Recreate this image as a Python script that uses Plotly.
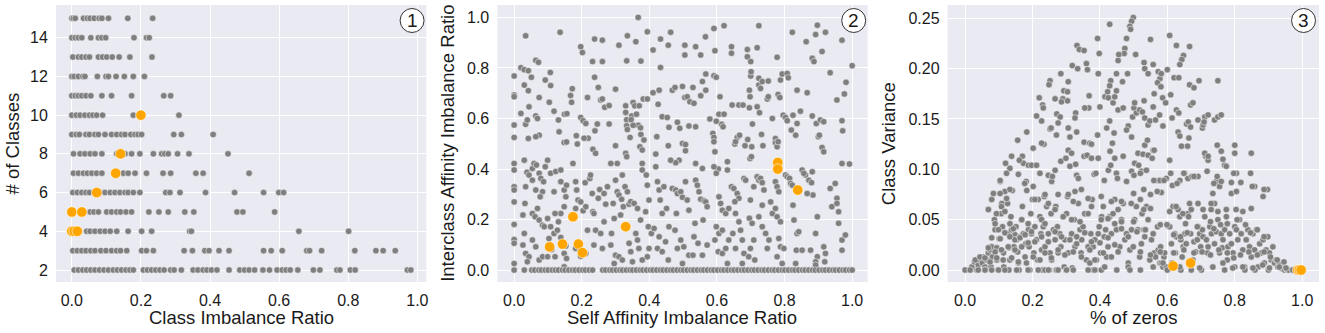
import plotly.graph_objects as go

# ---------------- Panel 1 data: # of classes vs class imbalance ratio ----------------
p1_classes = [15, 14, 13, 12, 11, 10, 9, 8, 7, 6, 5, 4, 3, 2]
p1_ratios = [
    [0.0, 0.004, 0.01, 0.034, 0.045, 0.053, 0.065, 0.079, 0.087, 0.106, 0.162, 0.234],
    [0.0, 0.01, 0.019, 0.029, 0.055, 0.077, 0.087, 0.098, 0.18, 0.216, 0.224],
    [0.003, 0.019, 0.029, 0.041, 0.051, 0.077, 0.089, 0.101, 0.117, 0.137, 0.168, 0.232],
    [0.0, 0.007, 0.019, 0.032, 0.038, 0.074, 0.099, 0.106, 0.128, 0.152, 0.178, 0.21],
    [0.0, 0.01, 0.019, 0.029, 0.041, 0.055, 0.087, 0.115, 0.173, 0.266, 0.286],
    [0.0, 0.013, 0.024, 0.038, 0.051, 0.061, 0.072, 0.089, 0.178, 0.31],
    [0.0, 0.013, 0.022, 0.041, 0.051, 0.067, 0.077, 0.096, 0.115, 0.13, 0.144, 0.154, 0.171,
     0.183, 0.192, 0.202, 0.295, 0.317, 0.409],
    [0.005, 0.024, 0.038, 0.053, 0.067, 0.087, 0.13, 0.154, 0.173, 0.197, 0.236, 0.26, 0.269,
     0.279, 0.306, 0.339, 0.452],
    [0.005, 0.019, 0.034, 0.045, 0.058, 0.072, 0.087, 0.149, 0.163, 0.183, 0.216, 0.264, 0.286,
     0.359, 0.38, 0.513],
    [0.003, 0.016, 0.029, 0.041, 0.051, 0.082, 0.096, 0.111, 0.125, 0.139, 0.154, 0.163, 0.178,
     0.197, 0.272, 0.284, 0.313, 0.387, 0.471, 0.555, 0.599, 0.613],
    [0.053, 0.064, 0.077, 0.101, 0.115, 0.13, 0.141, 0.157, 0.173, 0.223, 0.252, 0.279, 0.327,
     0.353, 0.478, 0.495, 0.587],
    [0.043, 0.053, 0.067, 0.082, 0.096, 0.111, 0.13, 0.163, 0.202, 0.231, 0.341, 0.346, 0.657, 0.801],
    [0.003, 0.016, 0.029, 0.041, 0.055, 0.067, 0.084, 0.099, 0.115, 0.13, 0.141, 0.159, 0.202,
     0.216, 0.236, 0.325, 0.349, 0.385, 0.397, 0.426, 0.455, 0.555, 0.577, 0.609, 0.68, 0.688,
     0.723, 0.819, 0.88, 0.901, 0.936],
    [0.007, 0.019, 0.032, 0.043, 0.055, 0.067, 0.08, 0.093, 0.106, 0.12, 0.132, 0.144, 0.157,
     0.168, 0.178, 0.207, 0.219, 0.231, 0.243, 0.255, 0.267, 0.286, 0.296, 0.317, 0.351, 0.365,
     0.38, 0.391, 0.404, 0.42, 0.455, 0.486, 0.5, 0.513, 0.529, 0.553, 0.572, 0.594, 0.609, 0.62,
     0.632, 0.654, 0.699, 0.718, 0.767, 0.776, 0.806, 0.82, 0.971, 0.981],
]
p1_hl_x = [0.2, 0.141, 0.127, 0.072, 0.0, 0.029, 0.0, 0.007, 0.016]
p1_hl_y = [10, 8, 7, 6, 5, 5, 4, 4, 4]

# ---------------- Panel 2 data: interclass vs self affinity imbalance ----------------
p2_x_rows = [
    [0.367, 0.034, 0.136, 0.197, 0.202, 0.238, 0.261, 0.31, 0.335, 0.36, 0.394, 0.411],
    [0.433, 0.456, 0.463, 0.505, 0.505, 0.537, 0.566, 0.552, 0.591, 0.594, 0.621, 0.643],
    [0.643, 0.69, 0.7, 0.69, 0.724, 0.719, 0.778, 0.823, 0.864, 0.882, 0.897, 0.892],
    [0.921, 0.911, 0.97, 1.0, 0.887, 0.232, 0.261, 0.333, 0.375, 0.064, 0.072],
    [0.0, 0.0, 0.0, 0.0, 0.0, 0.02, 0.03, 0.042, 0.051, 0.03, 0.042, 0.02, 0.034, 0.039, 0.044, 0.042],
    [0.092, 0.107, 0.108, 0.074, 0.064, 0.069, 0.074, 0.064, 0.104, 0.118, 0.131, 0.133, 0.148, 0.155],
    [0.149, 0.156, 0.167, 0.172, 0.17, 0.184, 0.187, 0.197, 0.204, 0.217, 0.212, 0.219, 0.207],
    [0.238, 0.249, 0.256, 0.261, 0.268, 0.281, 0.246, 0.239, 0.233, 0.241, 0.281, 0.3, 0.3, 0.305],
    [0.33, 0.33, 0.333, 0.333, 0.348, 0.346, 0.352, 0.357, 0.37, 0.362, 0.367, 0.375, 0.374, 0.352,
     0.335, 0.343],
    [0.382, 0.394, 0.372, 0.384, 0.379, 0.411, 0.426, 0.429, 0.433, 0.438, 0.453, 0.458, 0.456,
     0.422, 0.419],
    [0.468, 0.476, 0.483, 0.49, 0.498, 0.505, 0.512, 0.498, 0.488, 0.478, 0.52, 0.529, 0.532, 0.537,
     0.552, 0.517, 0.507, 0.507],
    [0.557, 0.567, 0.567, 0.579, 0.588, 0.591, 0.606, 0.614, 0.598, 0.591, 0.598, 0.609, 0.621,
     0.618, 0.594, 0.591, 0.604],
    [0.645, 0.653, 0.66, 0.667, 0.655, 0.665, 0.677, 0.683, 0.691, 0.696, 0.7, 0.701, 0.696, 0.698,
     0.703, 0.698, 0.705],
    [0.724, 0.724, 0.729, 0.734, 0.719, 0.726, 0.732, 0.736, 0.752, 0.749, 0.752, 0.764, 0.773,
     0.773, 0.778, 0.781],
    [0.781, 0.786, 0.788, 0.793, 0.808, 0.811, 0.796, 0.803, 0.808, 0.82, 0.825, 0.837, 0.837,
     0.847, 0.833],
    [0.867, 0.882, 0.894, 0.9, 0.906, 0.916, 0.903, 0.911, 0.916, 0.935, 0.955, 0.97, 0.972, 0.977,
     0.982],
    [0.0, 0.0, 0.0, 0.0, 0.0, 0.0, 0.0, 0.0, 0.0],
    [0.03, 0.038, 0.044, 0.034, 0.032, 0.026, 0.03, 0.026, 0.034, 0.044, 0.039],
    [0.054, 0.059, 0.066, 0.054, 0.064, 0.074, 0.079, 0.084, 0.077, 0.087, 0.092, 0.099],
    [0.054, 0.062, 0.069, 0.074, 0.084, 0.099, 0.089, 0.054, 0.064, 0.074, 0.084, 0.099],
    [0.108, 0.118, 0.123, 0.138, 0.138, 0.148, 0.153, 0.155, 0.148, 0.138, 0.121],
    [0.108, 0.118, 0.128, 0.103, 0.111, 0.121, 0.131, 0.138, 0.153, 0.148, 0.155, 0.148],
    [0.174, 0.182, 0.185, 0.189, 0.182, 0.197, 0.204, 0.21, 0.212, 0.224, 0.217, 0.182, 0.197, 0.212],
    [0.226, 0.231, 0.233, 0.236, 0.249, 0.253, 0.241, 0.236, 0.256, 0.266, 0.261, 0.266, 0.276, 0.271],
    [0.286, 0.293, 0.3, 0.305, 0.31, 0.318, 0.323, 0.315, 0.296, 0.288, 0.286, 0.3, 0.296, 0.31, 0.32],
    [0.33, 0.333, 0.32, 0.328, 0.335, 0.34, 0.345, 0.355, 0.365, 0.374, 0.36, 0.34, 0.345, 0.35,
     0.365, 0.369],
    [0.379, 0.379, 0.391, 0.394, 0.399, 0.389, 0.397, 0.406, 0.399, 0.394, 0.379],
    [0.419, 0.424, 0.429, 0.432, 0.438, 0.451, 0.443, 0.414, 0.429, 0.424, 0.438, 0.448, 0.458, 0.456],
    [0.463, 0.468, 0.478, 0.483, 0.493, 0.498, 0.507, 0.512, 0.517, 0.48, 0.476, 0.483, 0.493,
     0.502, 0.498, 0.517, 0.529],
    [0.537, 0.542, 0.547, 0.552, 0.562, 0.567, 0.571, 0.559, 0.535, 0.532, 0.544, 0.557, 0.571,
     0.537, 0.557],
    [0.591, 0.598, 0.606, 0.611, 0.598, 0.606, 0.616, 0.594, 0.604, 0.616, 0.626, 0.635, 0.631],
    [0.616, 0.626, 0.635, 0.631, 0.631, 0.643, 0.65, 0.66, 0.665, 0.653, 0.655, 0.665, 0.67, 0.675,
     0.647, 0.655, 0.68, 0.675],
    [0.68, 0.685, 0.702, 0.709, 0.699, 0.696, 0.704, 0.709, 0.699, 0.694, 0.712],
    [0.719, 0.724, 0.729, 0.734, 0.739, 0.734, 0.724, 0.734, 0.744, 0.749, 0.754],
    [0.759, 0.764, 0.773, 0.773, 0.778, 0.783, 0.778, 0.788, 0.783, 0.778, 0.788, 0.798, 0.793],
    [0.803, 0.808, 0.815, 0.818, 0.823, 0.825, 0.828, 0.837, 0.842, 0.835, 0.833, 0.862, 0.872,
     0.88, 0.882, 0.884],
    [0.852, 0.857, 0.867, 0.897, 0.892, 0.897, 0.892, 0.892, 0.852, 0.877, 0.916, 0.921, 0.919],
    [0.935, 0.95, 0.94, 0.955, 0.955, 0.96, 0.96, 0.97, 0.98, 0.97, 0.97, 0.992],
]
p2_y_rows = [
    [1.0, 0.927, 0.941, 0.884, 0.861, 0.914, 0.91, 0.89, 0.927, 0.904, 0.943, 0.871],
    [0.914, 0.89, 0.941, 0.89, 0.851, 0.884, 0.923, 0.851, 0.956, 0.868, 0.967, 0.884],
    [0.858, 0.844, 0.825, 0.873, 0.967, 0.88, 0.842, 0.941, 0.904, 0.838, 0.969, 0.932],
    [0.941, 0.865, 0.91, 0.809, 0.825, 0.825, 0.825, 0.828, 0.827, 0.83, 0.822],
    [0.768, 0.693, 0.686, 0.574, 0.525, 0.801, 0.793, 0.789, 0.763, 0.732, 0.71, 0.62, 0.577, 0.594,
     0.646, 0.521],
    [0.752, 0.782, 0.73, 0.683, 0.61, 0.6, 0.534, 0.528, 0.664, 0.629, 0.594, 0.547, 0.505, 0.507],
    [0.617, 0.619, 0.691, 0.718, 0.664, 0.532, 0.499, 0.604, 0.591, 0.683, 0.58, 0.522, 0.522],
    [0.763, 0.723, 0.673, 0.677, 0.644, 0.651, 0.578, 0.551, 0.478, 0.462, 0.578, 0.716, 0.492, 0.422],
    [0.65, 0.624, 0.595, 0.571, 0.61, 0.595, 0.663, 0.65, 0.65, 0.617, 0.573, 0.537, 0.563, 0.573,
     0.556, 0.525],
    [0.677, 0.677, 0.488, 0.515, 0.475, 0.702, 0.656, 0.712, 0.802, 0.607, 0.604, 0.565, 0.492,
     0.528, 0.459],
    [0.712, 0.723, 0.585, 0.561, 0.727, 0.683, 0.686, 0.501, 0.435, 0.425, 0.666, 0.723, 0.66, 0.567,
     0.69, 0.57, 0.497, 0.472],
    [0.746, 0.776, 0.712, 0.598, 0.541, 0.525, 0.617, 0.577, 0.589, 0.769, 0.763, 0.686, 0.617,
     0.567, 0.468, 0.508, 0.4],
    [0.653, 0.499, 0.525, 0.534, 0.508, 0.653, 0.653, 0.492, 0.517, 0.642, 0.768, 0.785, 0.712, 0.686,
     0.488, 0.442, 0.578],
    [0.759, 0.732, 0.719, 0.746, 0.646, 0.623, 0.537, 0.492, 0.748, 0.677, 0.686, 0.6, 0.521,
     0.504, 0.488, 0.508],
    [0.695, 0.683, 0.752, 0.776, 0.778, 0.761, 0.613, 0.604, 0.591, 0.554, 0.613, 0.58, 0.712,
     0.629, 0.534],
    [0.702, 0.61, 0.58, 0.528, 0.594, 0.587, 0.534, 0.485, 0.468, 0.781, 0.673, 0.591, 0.551, 0.697,
     0.743],
    [0.422, 0.396, 0.33, 0.317, 0.27, 0.181, 0.121, 0.106, 0.026],
    [0.435, 0.387, 0.376, 0.33, 0.264, 0.218, 0.145, 0.099, 0.066, 0.053, 0.033],
    [0.402, 0.422, 0.416, 0.356, 0.317, 0.383, 0.363, 0.31, 0.29, 0.35, 0.409, 0.435],
    [0.224, 0.211, 0.244, 0.198, 0.178, 0.204, 0.172, 0.119, 0.092, 0.04, 0.053, 0.053],
    [0.383, 0.31, 0.39, 0.35, 0.396, 0.317, 0.29, 0.336, 0.251, 0.224, 0.224],
    [0.172, 0.145, 0.158, 0.125, 0.082, 0.053, 0.191, 0.129, 0.095, 0.066, 0.046, 0.013],
    [0.422, 0.35, 0.317, 0.277, 0.244, 0.27, 0.235, 0.346, 0.251, 0.363, 0.158, 0.086, 0.055, 0.066],
    [0.376, 0.303, 0.231, 0.224, 0.284, 0.319, 0.158, 0.099, 0.145, 0.191, 0.086, 0.303, 0.33, 0.261],
    [0.422, 0.264, 0.356, 0.31, 0.297, 0.28, 0.251, 0.218, 0.204, 0.145, 0.099, 0.059, 0.026, 0.053, 0.04],
    [0.462, 0.449, 0.376, 0.33, 0.31, 0.261, 0.271, 0.264, 0.244, 0.198, 0.145, 0.106, 0.073, 0.033,
     0.119, 0.086],
    [0.422, 0.396, 0.376, 0.336, 0.277, 0.231, 0.172, 0.145, 0.086, 0.053, 0.04],
    [0.409, 0.35, 0.317, 0.277, 0.224, 0.244, 0.33, 0.165, 0.132, 0.086, 0.073, 0.112, 0.172, 0.04],
    [0.435, 0.323, 0.317, 0.303, 0.31, 0.288, 0.35, 0.277, 0.237, 0.224, 0.158, 0.086, 0.119,
     0.092, 0.026, 0.059, 0.059],
    [0.356, 0.336, 0.31, 0.28, 0.274, 0.27, 0.251, 0.198, 0.185, 0.132, 0.106, 0.059, 0.099,
     0.422, 0.402],
    [0.409, 0.383, 0.29, 0.264, 0.172, 0.145, 0.158, 0.119, 0.073, 0.066, 0.086, 0.119, 0.026],
    [0.237, 0.224, 0.244, 0.429, 0.396, 0.33, 0.323, 0.303, 0.284, 0.271, 0.224, 0.191, 0.158, 0.119,
     0.145, 0.086, 0.066, 0.026],
    [0.363, 0.356, 0.449, 0.33, 0.277, 0.205, 0.185, 0.119, 0.086, 0.053, 0.04],
    [0.369, 0.356, 0.363, 0.346, 0.317, 0.257, 0.211, 0.172, 0.145, 0.086, 0.119],
    [0.27, 0.224, 0.244, 0.35, 0.33, 0.31, 0.211, 0.191, 0.125, 0.053, 0.092, 0.086, 0.026],
    [0.376, 0.369, 0.363, 0.343, 0.336, 0.257, 0.198, 0.145, 0.152, 0.079, 0.026, 0.376, 0.356,
     0.346, 0.389, 0.297],
    [0.396, 0.383, 0.303, 0.211, 0.145, 0.053, 0.033, 0.02, 0.079, 0.079, 0.092, 0.066, 0.033],
    [0.323, 0.343, 0.251, 0.284, 0.264, 0.231, 0.185, 0.119, 0.139, 0.079, 0.422, 0.42],
]
# points lying exactly on zero interclass affinity imbalance
p2_zero_x = [0.0, 0.03, 0.052, 0.061, 0.073, 0.081, 0.092, 0.101, 0.113, 0.122, 0.131, 0.143,
             0.151, 0.162, 0.173, 0.181, 0.192, 0.203, 0.211, 0.222, 0.232, 0.262, 0.271, 0.283,
             0.291, 0.302, 0.313, 0.321, 0.332, 0.343, 0.351, 0.362, 0.373, 0.381, 0.392, 0.403,
             0.411, 0.422, 0.433, 0.441, 0.452, 0.463, 0.471, 0.482, 0.493, 0.501, 0.512, 0.523,
             0.531, 0.542, 0.553, 0.561, 0.572, 0.583, 0.591, 0.602, 0.613, 0.621, 0.632, 0.643,
             0.651, 0.662, 0.673, 0.681, 0.692, 0.703, 0.711, 0.722, 0.733, 0.741, 0.752, 0.763,
             0.771, 0.782, 0.793, 0.801, 0.812, 0.823, 0.831, 0.842, 0.853, 0.861, 0.872, 0.883,
             0.891, 0.902, 0.913, 0.921, 0.932, 0.943, 0.951, 0.962, 0.973, 0.981, 0.992, 1.0]
p2_hl_x = [0.105, 0.143, 0.174, 0.19, 0.202, 0.33, 0.78, 0.78, 0.839]
p2_hl_y = [0.092, 0.103, 0.211, 0.103, 0.069, 0.172, 0.426, 0.4, 0.317]

# ---------------- Panel 3 data: class variance vs % of zeros ----------------
p3_x_rows = [
    [0.499, 0.494, 0.489, 0.491, 0.429, 0.393, 0.479, 0.55, 0.607],
    [0.332, 0.339, 0.353, 0.474, 0.472, 0.456, 0.454, 0.398, 0.506, 0.627, 0.666, 0.648, 0.643, 0.637],
    [0.284, 0.318, 0.334, 0.36, 0.363, 0.395, 0.252, 0.249, 0.449, 0.482, 0.531, 0.533],
    [0.543, 0.558, 0.573, 0.578, 0.582, 0.6, 0.467, 0.432, 0.429, 0.62, 0.634, 0.666, 0.679, 0.694],
    [0.22, 0.23, 0.232, 0.267, 0.29, 0.293, 0.306, 0.304, 0.212, 0.227, 0.252, 0.255, 0.183, 0.156],
    [0.272, 0.282, 0.286, 0.304, 0.328, 0.326, 0.368, 0.367, 0.355, 0.306, 0.311, 0.331, 0.276, 0.271],
    [0.353, 0.37, 0.375, 0.393, 0.4, 0.415, 0.423, 0.425, 0.439, 0.444, 0.449, 0.42, 0.429, 0.442, 0.437],
    [0.454, 0.469, 0.484, 0.479, 0.494, 0.497, 0.501, 0.503, 0.508, 0.518, 0.526, 0.531, 0.533],
    [0.543, 0.548, 0.558, 0.561, 0.571, 0.581, 0.586, 0.565, 0.577, 0.587, 0.595, 0.533, 0.541, 0.558],
    [0.61, 0.614, 0.627, 0.634, 0.632, 0.637, 0.642, 0.657, 0.662, 0.664, 0.66, 0.669, 0.676, 0.669],
    [0.691, 0.704, 0.706, 0.711, 0.721, 0.74, 0.75, 0.76, 0.714, 0.721, 0.748, 0.75, 0.709],
    [0.76, 0.765, 0.77, 0.775, 0.8, 0.8, 0.849, 0.12, 0.133, 0.138, 0.17, 0.173, 0.188, 0.197],
    [0.202, 0.212, 0.161, 0.181, 0.234, 0.222, 0.227, 0.247, 0.257, 0.259, 0.267, 0.284, 0.299, 0.306],
    [0.316, 0.311, 0.328, 0.331, 0.336, 0.353, 0.362, 0.375, 0.383, 0.388, 0.395, 0.413, 0.425, 0.43],
    [0.432, 0.444, 0.449, 0.452, 0.469, 0.479, 0.494, 0.501, 0.503, 0.515, 0.523, 0.538, 0.513, 0.528],
    [0.543, 0.555, 0.561, 0.573, 0.578, 0.582, 0.597, 0.607, 0.61, 0.615, 0.637, 0.651, 0.661, 0.673],
    [0.681, 0.691, 0.711, 0.721, 0.745, 0.755, 0.76, 0.79, 0.79, 0.805, 0.805, 0.818, 0.847, 0.859],
    [0.884, 0.897, 0.735, 0.74, 0.73],
    [0.0, 0.015, 0.02, 0.028, 0.035, 0.039, 0.044, 0.051, 0.054, 0.059, 0.064, 0.069, 0.069, 0.074, 0.077],
    [0.079, 0.081, 0.084, 0.087, 0.089, 0.094, 0.094, 0.099, 0.101, 0.104, 0.107, 0.109, 0.111, 0.114, 0.115],
    [0.118, 0.123, 0.126, 0.128, 0.13, 0.133, 0.136, 0.138, 0.14, 0.145, 0.148, 0.151, 0.153, 0.156, 0.158],
    [0.163, 0.168, 0.17, 0.173, 0.178, 0.18, 0.183, 0.188, 0.19, 0.192, 0.195, 0.197, 0.2, 0.204, 0.207],
    [0.212, 0.215, 0.217, 0.222, 0.225, 0.227, 0.229, 0.232, 0.235, 0.237, 0.242, 0.247, 0.252, 0.255, 0.257],
    [0.262, 0.267, 0.269, 0.271, 0.274, 0.276, 0.281, 0.284, 0.291, 0.294, 0.296, 0.301, 0.304, 0.306, 0.311],
    [0.316, 0.318, 0.324, 0.326, 0.331, 0.336, 0.341, 0.344, 0.346, 0.35, 0.355, 0.36, 0.365, 0.37, 0.373],
    [0.377, 0.38, 0.385, 0.39, 0.395, 0.398, 0.402, 0.405, 0.41, 0.413, 0.417, 0.42, 0.424, 0.429, 0.434],
    [0.439, 0.444, 0.449, 0.454, 0.459, 0.464, 0.469, 0.474, 0.479, 0.484, 0.489, 0.494, 0.499, 0.503, 0.508],
    [0.513, 0.518, 0.523, 0.525, 0.531, 0.533, 0.538, 0.543, 0.548, 0.553, 0.558, 0.561, 0.565, 0.571, 0.573],
    [0.578, 0.58, 0.582, 0.587, 0.59, 0.592, 0.597, 0.602, 0.607, 0.612, 0.614, 0.617, 0.622, 0.624, 0.627],
    [0.632, 0.637, 0.64, 0.644, 0.647, 0.652, 0.654, 0.656, 0.661, 0.663, 0.666, 0.669, 0.671, 0.676, 0.679],
    [0.684, 0.689, 0.691, 0.696, 0.699, 0.701, 0.704, 0.706, 0.711, 0.716, 0.719, 0.721, 0.726, 0.731, 0.735],
    [0.74, 0.745, 0.75, 0.755, 0.76, 0.763, 0.765, 0.77, 0.775, 0.778, 0.78, 0.785, 0.79, 0.795, 0.8],
    [0.8, 0.805, 0.809, 0.814, 0.819, 0.824, 0.829, 0.834, 0.839, 0.844, 0.849, 0.854, 0.859, 0.864, 0.869],
    [0.874, 0.879, 0.884, 0.888, 0.893, 0.898, 0.903, 0.908, 0.913, 0.918, 0.923, 0.928, 0.933, 0.938, 0.943],
    [0.948, 0.953, 0.958, 0.967, 0.977],
    [0.06, 0.13, 0.16, 0.25, 0.3, 0.38, 0.45, 0.52, 0.6, 0.64, 0.77, 0.83, 0.86, 0.9, 0.96],
    [0.104, 0.158, 0.177, 0.202, 0.084, 0.079, 0.104, 0.133, 0.123, 0.069, 0.093, 0.108, 0.118],
    [0.089, 0.099, 0.133, 0.143, 0.168, 0.187, 0.079, 0.104, 0.118, 0.133, 0.148, 0.163, 0.178, 0.197],
    [0.069, 0.089, 0.108, 0.128, 0.148, 0.168, 0.187, 0.207, 0.03, 0.044, 0.059, 0.074, 0.094, 0.113],
    [0.138, 0.158, 0.182, 0.202, 0.222, 0.015, 0.039, 0.059, 0.079, 0.099, 0.118, 0.153, 0.187, 0.217, 0.237],
    [0.247, 0.276, 0.301, 0.321, 0.365, 0.385, 0.404, 0.414, 0.484, 0.489],
    [0.207, 0.237, 0.247, 0.267, 0.276, 0.306, 0.326, 0.345, 0.321, 0.365, 0.375, 0.404, 0.434, 0.464, 0.493],
    [0.227, 0.237, 0.291, 0.316, 0.341, 0.365, 0.404, 0.424, 0.444, 0.464],
    [0.227, 0.247, 0.267, 0.286, 0.311, 0.331, 0.355, 0.375, 0.4, 0.424, 0.444, 0.464, 0.484],
    [0.237, 0.256, 0.276, 0.296, 0.321, 0.345, 0.37, 0.385, 0.41, 0.434, 0.454],
    [0.5, 0.53, 0.55, 0.57, 0.52, 0.53, 0.55, 0.607, 0.626, 0.646, 0.671, 0.691, 0.706, 0.73],
    [0.75, 0.775, 0.804, 0.824, 0.849, 0.5, 0.51, 0.535, 0.579, 0.599, 0.619, 0.639, 0.659, 0.689],
    [0.728, 0.738, 0.758, 0.778, 0.807, 0.832, 0.847, 0.867, 0.887, 0.52, 0.55, 0.579, 0.619, 0.649],
    [0.679, 0.703, 0.728, 0.753, 0.778, 0.797, 0.817, 0.842, 0.867, 0.887, 0.906, 0.926, 0.946],
    [0.558, 0.587, 0.637, 0.696, 0.735, 0.765, 0.794, 0.824, 0.854, 0.883, 0.903, 0.932, 0.952, 0.972],
    [0.52, 0.56, 0.59, 0.649, 0.679, 0.718, 0.748, 0.797, 0.852, 0.887, 0.738, 0.629],
]
p3_y_rows = [
    [0.2507, 0.247, 0.242, 0.239, 0.244, 0.23, 0.23, 0.229, 0.233],
    [0.223, 0.219, 0.218, 0.22, 0.215, 0.214, 0.208, 0.215, 0.214, 0.223, 0.222, 0.213, 0.209, 0.204],
    [0.195, 0.203, 0.2, 0.205, 0.199, 0.195, 0.188, 0.184, 0.195, 0.195, 0.206, 0.2],
    [0.195, 0.204, 0.197, 0.19, 0.195, 0.199, 0.187, 0.188, 0.183, 0.191, 0.191, 0.184, 0.181, 0.188],
    [0.171, 0.164, 0.161, 0.17, 0.17, 0.178, 0.187, 0.177, 0.153, 0.148, 0.14, 0.141, 0.137, 0.129],
    [0.155, 0.152, 0.167, 0.168, 0.156, 0.151, 0.173, 0.161, 0.161, 0.141, 0.132, 0.137, 0.146, 0.134],
    [0.127, 0.126, 0.125, 0.134, 0.162, 0.172, 0.177, 0.171, 0.166, 0.172, 0.178, 0.141, 0.148, 0.136, 0.126],
    [0.159, 0.161, 0.143, 0.139, 0.132, 0.152, 0.161, 0.166, 0.156, 0.159, 0.157, 0.168, 0.151],
    [0.144, 0.148, 0.162, 0.175, 0.186, 0.182, 0.171, 0.149, 0.154, 0.143, 0.166, 0.124, 0.129, 0.119],
    [0.174, 0.151, 0.159, 0.156, 0.137, 0.133, 0.123, 0.145, 0.147, 0.131, 0.123, 0.164, 0.166, 0.142],
    [0.149, 0.141, 0.144, 0.152, 0.154, 0.149, 0.152, 0.154, 0.113, 0.109, 0.124, 0.188, 0.147],
    [0.118, 0.11, 0.104, 0.103, 0.124, 0.116, 0.116, 0.106, 0.101, 0.113, 0.113, 0.106, 0.104, 0.104],
    [0.121, 0.104, 0.109, 0.088, 0.125, 0.096, 0.126, 0.094, 0.088, 0.093, 0.099, 0.108, 0.111, 0.119],
    [0.116, 0.103, 0.105, 0.094, 0.091, 0.113, 0.114, 0.111, 0.095, 0.096, 0.111, 0.089, 0.099, 0.118],
    [0.104, 0.111, 0.096, 0.091, 0.113, 0.088, 0.098, 0.094, 0.106, 0.104, 0.098, 0.099, 0.116, 0.115],
    [0.114, 0.111, 0.119, 0.089, 0.089, 0.077, 0.091, 0.109, 0.096, 0.084, 0.089, 0.096, 0.091, 0.093],
    [0.093, 0.093, 0.116, 0.113, 0.088, 0.083, 0.088, 0.087, 0.076, 0.078, 0.096, 0.087, 0.096, 0.083],
    [0.073, 0.08, 0.076, 0.066, 0.06],
    [0.0, 0.0, 0.003, 0.008, 0.0, 0.005, 0.01, 0.007, 0.013, 0.003, 0.01, 0.017, 0.06, 0.02, 0.003],
    [0.023, 0.013, 0.076, 0.05, 0.04, 0.022, 0.01, 0.0, 0.031, 0.088, 0.056, 0.066, 0.043, 0.017, 0.003],
    [0.078, 0.096, 0.066, 0.036, 0.022, 0.01, 0.053, 0.04, 0.079, 0.023, 0.035, 0.043, 0.03, 0.018, 0.007],
    [0.033, 0.05, 0.063, 0.036, 0.013, 0.026, 0.079, 0.04, 0.023, 0.0, 0.056, 0.036, 0.07, 0.017, 0.043],
    [0.03, 0.01, 0.07, 0.053, 0.036, 0.02, 0.0, 0.043, 0.073, 0.023, 0.063, 0.036, 0.017, 0.056, 0.01],
    [0.04, 0.03, 0.063, 0.0, 0.043, 0.017, 0.036, 0.023, 0.053, 0.003, 0.03, 0.056, 0.073, 0.017, 0.03],
    [0.036, 0.002, 0.05, 0.023, 0.026, 0.066, 0.04, 0.017, 0.03, 0.043, 0.056, 0.01, 0.023, 0.007, 0.036],
    [0.07, 0.023, 0.03, 0.01, 0.036, 0.043, 0.017, 0.053, 0.063, 0.033, 0.04, 0.013, 0.023, 0.053, 0.036],
    [0.056, 0.07, 0.04, 0.06, 0.023, 0.05, 0.066, 0.03, 0.036, 0.007, 0.02, 0.04, 0.023, 0.05, 0.063],
    [0.04, 0.013, 0.026, 0.056, 0.04, 0.033, 0.063, 0.05, 0.01, 0.03, 0.036, 0.017, 0.013, 0.043, 0.02],
    [0.007, 0.023, 0.007, 0.003, 0.013, 0.017, 0.003, 0.044, 0.043, 0.026, 0.007, 0.063, 0.036, 0.017, 0.033],
    [0.06, 0.053, 0.03, 0.013, 0.023, 0.036, 0.046, 0.026, 0.056, 0.053, 0.066, 0.036, 0.0, 0.01, 0.028],
    [0.018, 0.03, 0.043, 0.036, 0.023, 0.0, 0.04, 0.033, 0.053, 0.03, 0.017, 0.023, 0.043, 0.036, 0.003],
    [0.026, 0.038, 0.05, 0.017, 0.036, 0.022, 0.03, 0.04, 0.053, 0.01, 0.023, 0.036, 0.026, 0.017, 0.003],
    [0.043, 0.04, 0.03, 0.05, 0.036, 0.02, 0.003, 0.03, 0.04, 0.023, 0.013, 0.036, 0.02, 0.04, 0.003],
    [0.026, 0.017, 0.03, 0.007, 0.02, 0.033, 0.017, 0.01, 0.023, 0.007, 0.01, 0.003, 0.005, 0.002, 0.001],
    [0.0, 0.001, 0.0, 0.0, 0.0],
    [0.0, 0.0, 0.0, 0.0, 0.0, 0.0, 0.0, 0.0, 0.0, 0.0, 0.0, 0.0, 0.0, 0.0, 0.0],
    [0.089, 0.095, 0.086, 0.083, 0.076, 0.07, 0.076, 0.08, 0.071, 0.06, 0.056, 0.063, 0.058],
    [0.046, 0.04, 0.046, 0.041, 0.05, 0.046, 0.032, 0.031, 0.037, 0.033, 0.03, 0.032, 0.035, 0.038],
    [0.022, 0.018, 0.02, 0.023, 0.02, 0.023, 0.027, 0.028, 0.01, 0.013, 0.012, 0.008, 0.012, 0.01],
    [0.012, 0.008, 0.007, 0.013, 0.01, 0.0, 0.0, 0.0, 0.0, 0.0, 0.0, 0.0, 0.0, 0.0, 0.0],
    [0.0, 0.0, 0.0, 0.0, 0.0, 0.0, 0.0, 0.003, 0.003, 0.0],
    [0.07, 0.075, 0.066, 0.06, 0.075, 0.075, 0.078, 0.08, 0.068, 0.071, 0.063, 0.073, 0.068, 0.068, 0.066],
    [0.05, 0.046, 0.053, 0.05, 0.048, 0.056, 0.05, 0.051, 0.046, 0.048],
    [0.033, 0.028, 0.038, 0.033, 0.03, 0.033, 0.037, 0.028, 0.027, 0.032, 0.025, 0.041, 0.033],
    [0.017, 0.012, 0.02, 0.015, 0.018, 0.013, 0.02, 0.01, 0.017, 0.013, 0.018],
    [0.076, 0.08, 0.075, 0.078, 0.07, 0.06, 0.061, 0.058, 0.063, 0.056, 0.06, 0.066, 0.06, 0.066],
    [0.058, 0.06, 0.06, 0.058, 0.061, 0.048, 0.038, 0.04, 0.045, 0.045, 0.035, 0.033, 0.037, 0.043],
    [0.048, 0.041, 0.045, 0.046, 0.05, 0.045, 0.037, 0.04, 0.033, 0.018, 0.015, 0.018, 0.017, 0.02],
    [0.017, 0.018, 0.015, 0.02, 0.017, 0.012, 0.015, 0.018, 0.015, 0.018, 0.013, 0.01, 0.008],
    [0.003, 0.007, 0.003, 0.002, 0.003, 0.007, 0.002, 0.003, 0.002, 0.005, 0.002, 0.003, 0.002, 0.0],
    [0.096, 0.089, 0.089, 0.096, 0.093, 0.098, 0.093, 0.096, 0.083, 0.08, 0.086, 0.086],
]
p3_hl_x = [0.617, 0.669, 0.987, 0.992, 0.997]
p3_hl_y = [0.004, 0.007, 0.0, 0.0, 0.0]

# ---------------- Axis texts ----------------
x_titles = ["Class Imbalance Ratio", "Self Affinity Imbalance Ratio", "% of zeros"]
y_titles = ["# of Classes", "Interclass Affinity Imbalance Ratio", "Class Variance"]
panel_labels = ["1", "2", "3"]


def flatten(rows):
    out = []
    for r in rows:
        out.extend(r)
    return out


for a, b in zip(p2_x_rows, p2_y_rows):
    assert len(a) == len(b), (len(a), len(b), a)
for a, b in zip(p3_x_rows, p3_y_rows):
    assert len(a) == len(b), (len(a), len(b), a)
assert len(p2_x_rows) == len(p2_y_rows) and len(p3_x_rows) == len(p3_y_rows)

p1_x, p1_y = [], []
for c, xs in zip(p1_classes, p1_ratios):
    p1_x.extend(xs)
    p1_y.extend([c] * len(xs))

p2_x = flatten(p2_x_rows) + p2_zero_x
p2_y = flatten(p2_y_rows) + [0.0] * len(p2_zero_x)
p3_x = flatten(p3_x_rows)
p3_y = flatten(p3_y_rows)

W, H = 1325, 333
BG = "#EAEAF2"
GRAY = "#7f7f7f"
ORANGE = "#FFA500"
TXT = "#1a1a1a"
FONT = "Liberation Sans, Arial, sans-serif"

# plot areas in pixels (left, right, top, bottom)
areas = [(56, 427, 5, 282), (498, 869, 5, 282), (949, 1321, 5, 282)]

fig = go.Figure()

gray_marker = dict(color=GRAY, size=6.5, line=dict(color="white", width=0.5))
hl_marker = dict(color=ORANGE, size=10.5, line=dict(color="white", width=0.6))

datasets = [(p1_x, p1_y, p1_hl_x, p1_hl_y), (p2_x, p2_y, p2_hl_x, p2_hl_y),
            (p3_x, p3_y, p3_hl_x, p3_hl_y)]
for i, (gx, gy, hx, hy) in enumerate(datasets):
    xa = "x" if i == 0 else f"x{i+1}"
    ya = "y" if i == 0 else f"y{i+1}"
    fig.add_trace(go.Scatter(x=gx, y=gy, mode="markers", marker=gray_marker,
                             xaxis=xa, yaxis=ya, showlegend=False))
    fig.add_trace(go.Scatter(x=hx, y=hy, mode="markers", marker=hl_marker,
                             xaxis=xa, yaxis=ya, showlegend=False))

xranges = [[-0.046, 1.026], [-0.05, 1.046], [-0.052, 1.05]]
yranges = [[1.38, 15.69], [-0.047, 1.049], [-0.0119, 0.2632]]
ytick = [dict(tickvals=[2, 4, 6, 8, 10, 12, 14], tickformat="d"),
         dict(tickvals=[0, 0.2, 0.4, 0.6, 0.8, 1.0], tickformat=".1f"),
         dict(tickvals=[0, 0.05, 0.1, 0.15, 0.2, 0.25], tickformat=".2f")]

layout = dict(width=W, height=H, margin=dict(l=0, r=0, t=0, b=0),
              paper_bgcolor="white", plot_bgcolor=BG,
              font=dict(family=FONT, size=16, color=TXT))

annotations = []
shapes = []
for i, (l, r, t, b) in enumerate(areas):
    sx = "" if i == 0 else str(i + 1)
    axis_common = dict(showgrid=True, gridcolor="white", gridwidth=1.3, zeroline=False,
                       showline=False, ticks="", ticklabelstandoff=7,
                       tickfont=dict(family=FONT, size=16, color=TXT))
    layout[f"xaxis{sx}"] = dict(domain=[l / W, r / W], range=xranges[i],
                                anchor=f"y{sx}", tickvals=[0, 0.2, 0.4, 0.6, 0.8, 1.0],
                                tickformat=".1f", **axis_common)
    layout[f"yaxis{sx}"] = dict(domain=[1 - b / H, 1 - t / H], range=yranges[i],
                                anchor=f"x{sx}", **ytick[i], **axis_common)
    # axis titles
    annotations.append(dict(text=x_titles[i], xref="paper", yref="paper",
                            x=(l + r) / 2 / W, y=1 - 317 / H, showarrow=False,
                            xanchor="center", yanchor="middle",
                            font=dict(family=FONT, size=18.5, color=TXT)))
    ytx = [13, 448, 890][i]
    annotations.append(dict(text=y_titles[i], xref="paper", yref="paper",
                            x=ytx / W, y=1 - (t + b) / 2 / H, showarrow=False,
                            textangle=-90, xanchor="center", yanchor="middle",
                            font=dict(family=FONT, size=18.5, color=TXT)))
    # circled panel number
    cx, cy, rad = [412.7, 855, 1305.5][i], 20.5, 12
    shapes.append(dict(type="circle", xref="paper", yref="paper",
                       x0=(cx - rad) / W, x1=(cx + rad) / W,
                       y0=1 - (cy + rad) / H, y1=1 - (cy - rad) / H,
                       fillcolor="white", line=dict(color="#333333", width=1)))
    annotations.append(dict(text=panel_labels[i], xref="paper", yref="paper",
                            x=cx / W, y=1 - cy / H, showarrow=False,
                            xanchor="center", yanchor="middle",
                            font=dict(family=FONT, size=19, color=TXT)))

layout["annotations"] = annotations
layout["shapes"] = shapes
fig.update_layout(**layout)
fig.write_html("out.html", config={"displayModeBar": False},
               post_script="document.body.style.margin='0';document.body.style.overflow='hidden';")
